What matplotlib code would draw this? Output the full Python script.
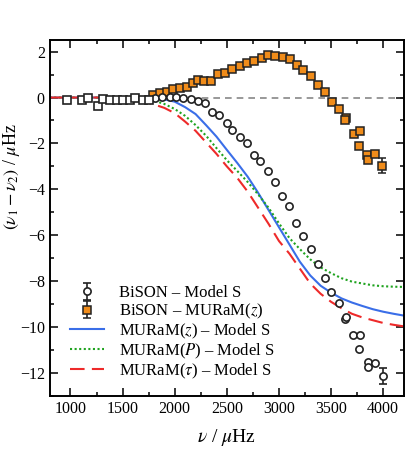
import numpy as np
import matplotlib
matplotlib.use("Agg")
import matplotlib.pyplot as plt
from matplotlib.ticker import MultipleLocator

plt.rcParams['font.family'] = ['Liberation Serif', 'DejaVu Serif']
plt.rcParams['mathtext.fontset'] = 'stix'

# low frequency points, where both BiSON differences coincide
nu_low = [965, 1109, 1172, 1263, 1316, 1381, 1445, 1508, 1573, 1621, 1691, 1755]
d_low = [-0.10, -0.10, 0.00, -0.35, -0.06, -0.10, -0.10, -0.10, -0.10, 0.00, -0.10, -0.10]

# BiSON - Model S
nu_ms = [1812, 1877, 1950, 2014, 2084, 2155, 2228, 2292, 2357, 2420, 2501, 2549,
         2629, 2693, 2763, 2820, 2894, 2964, 3028, 3092, 3166, 3230, 3307, 3370,
         3437, 3499, 3572, 3636, 3643, 3710, 3780, 3770, 3850, 3850, 3924, 3998]
d_ms = [-0.03, 0.02, 0.02, 0.02, -0.03, -0.07, -0.13, -0.22, -0.65, -0.75, -1.11, -1.43,
        -1.72, -1.98, -2.50, -2.78, -3.19, -3.70, -4.27, -4.74, -5.46, -6.01, -6.59, -7.24,
        -7.85, -8.45, -8.94, -9.63, -9.55, -10.36, -10.36, -10.97, -11.52, -11.74, -11.58, -12.13]
err_ms_last = 0.33

# BiSON - MURaM(z)
nu_mz = [1796, 1860, 1925, 1988, 2052, 2117, 2174, 2222, 2283, 2350, 2414, 2484,
         2549, 2622, 2693, 2765, 2836, 2890, 2964, 3038, 3101, 3172, 3230, 3307,
         3374, 3445, 3509, 3579, 3646, 3629, 3716, 3780, 3770, 3844, 3850, 3917, 3991]
d_mz = [0.12, 0.19, 0.26, 0.36, 0.41, 0.48, 0.62, 0.77, 0.74, 0.74, 1.03, 1.09,
        1.23, 1.38, 1.52, 1.57, 1.71, 1.86, 1.81, 1.76, 1.67, 1.42, 1.20, 0.94,
        0.55, 0.22, -0.19, -0.50, -0.87, -1.00, -1.59, -1.45, -2.10, -2.49, -2.71, -2.45, -2.97]
err_mz_last = 0.33

# model differences
nu_mod = [800, 1000, 1200, 1400, 1500, 1600, 1700, 1800, 1900, 2000, 2100, 2200, 2300,
          2400, 2500, 2600, 2700, 2800, 2900, 3000, 3100, 3200, 3300, 3400, 3500,
          3600, 3700, 3800, 3900, 4000, 4100, 4200]
d_z = [0, 0, 0, 0, 0, -0.01, -0.02, -0.03, -0.08, -0.18, -0.42, -0.72, -1.20,
       -1.70, -2.28, -2.85, -3.45, -4.15, -4.90, -5.65, -6.40, -7.15, -7.75, -8.20, -8.50,
       -8.75, -8.93, -9.08, -9.22, -9.33, -9.42, -9.50]
d_p = [0, 0, 0, 0, -0.01, -0.03, -0.06, -0.13, -0.28, -0.50, -0.80, -1.20, -1.66,
       -2.20, -2.73, -3.20, -3.68, -4.22, -4.80, -5.48, -6.12, -6.60, -7.05, -7.40, -7.65,
       -7.87, -8.02, -8.10, -8.18, -8.22, -8.24, -8.25]
d_t = [0, 0, 0, 0, -0.03, -0.08, -0.17, -0.30, -0.45, -0.68, -1.05, -1.45, -1.95,
       -2.45, -3.00, -3.50, -4.10, -4.80, -5.50, -6.25, -6.80, -7.45, -8.10, -8.55, -8.90,
       -9.18, -9.42, -9.58, -9.70, -9.82, -9.90, -9.97]

orange = '#f08c1a'
edge = '#222222'

fig = plt.figure(figsize=(4.17, 4.51), dpi=100)
ax = fig.add_axes([0.119, 0.122, 0.850, 0.789])

ax.axhline(0, color='#888888', lw=1.2, ls=(0, (4, 3)), zorder=1)

lz, = ax.plot(nu_mod, d_z, color='#3a6ee8', lw=1.5, zorder=2, label=r'MURaM($z$) – Model S')
lp, = ax.plot(nu_mod, d_p, color='#1fa31f', lw=1.5, ls=(0, (1, 1.2)), zorder=2,
              label=r'MURaM($P$) – Model S')
lt, = ax.plot(nu_mod, d_t, color='#ee2a2a', lw=1.5, ls=(0, (7, 3.5)), zorder=2,
              label=r'MURaM($\tau$) – Model S')

ax.plot(nu_mz[:-1], d_mz[:-1], ls='none', marker='s', ms=5.3, mfc=orange, mec=edge,
        mew=1.1, zorder=3)
hmz = ax.errorbar(nu_mz[-1:], d_mz[-1:], yerr=[err_mz_last], fmt='s', ms=5.3, mfc=orange,
                  mec=edge, mew=1.1, ecolor=edge, elinewidth=1.2, capsize=3,
                  capthick=1.2, zorder=3, label=r'BiSON – MURaM($z$)')

ax.plot(nu_ms[:-1], d_ms[:-1], ls='none', marker='o', ms=5.2, mfc='white', mec=edge,
        mew=1.2, zorder=4)
hms = ax.errorbar(nu_ms[-1:], d_ms[-1:], yerr=[err_ms_last], fmt='o', ms=5.2, mfc='white',
                  mec=edge, mew=1.2, ecolor=edge, elinewidth=1.2, capsize=3,
                  capthick=1.2, zorder=4, label='BiSON – Model S')
ax.plot(nu_low, d_low, ls='none', marker='s', ms=5.3, mfc='white', mec=edge,
        mew=1.2, zorder=4)

ax.set_xlim(800, 4200)
ax.set_ylim(-13, 2.5)
ax.xaxis.set_major_locator(MultipleLocator(500))
ax.xaxis.set_minor_locator(MultipleLocator(250))
ax.yaxis.set_major_locator(MultipleLocator(2))
ax.yaxis.set_minor_locator(MultipleLocator(1))
ax.tick_params(which='both', direction='in', top=True, right=True, labelsize=11.5, width=1.1)
ax.tick_params(which='major', length=6)
ax.tick_params(which='minor', length=3)
for s in ax.spines.values():
    s.set_linewidth(1.4)

ax.set_xlabel(r'$\nu$ / $\mu$Hz', fontsize=14, labelpad=7)
ax.set_ylabel(r'$(\nu_1 - \nu_2)$ / $\mu$Hz', fontsize=13)
ax.yaxis.set_label_coords(-0.078, 0.615)

ax.legend(handles=[hms, hmz, lz, lp, lt], loc='lower left', bbox_to_anchor=(0.03, 0.015),
          frameon=False, fontsize=12, handlelength=2.0, handletextpad=0.9,
          labelspacing=0.04, borderaxespad=0.2)

fig.savefig('out.png', dpi=100)
